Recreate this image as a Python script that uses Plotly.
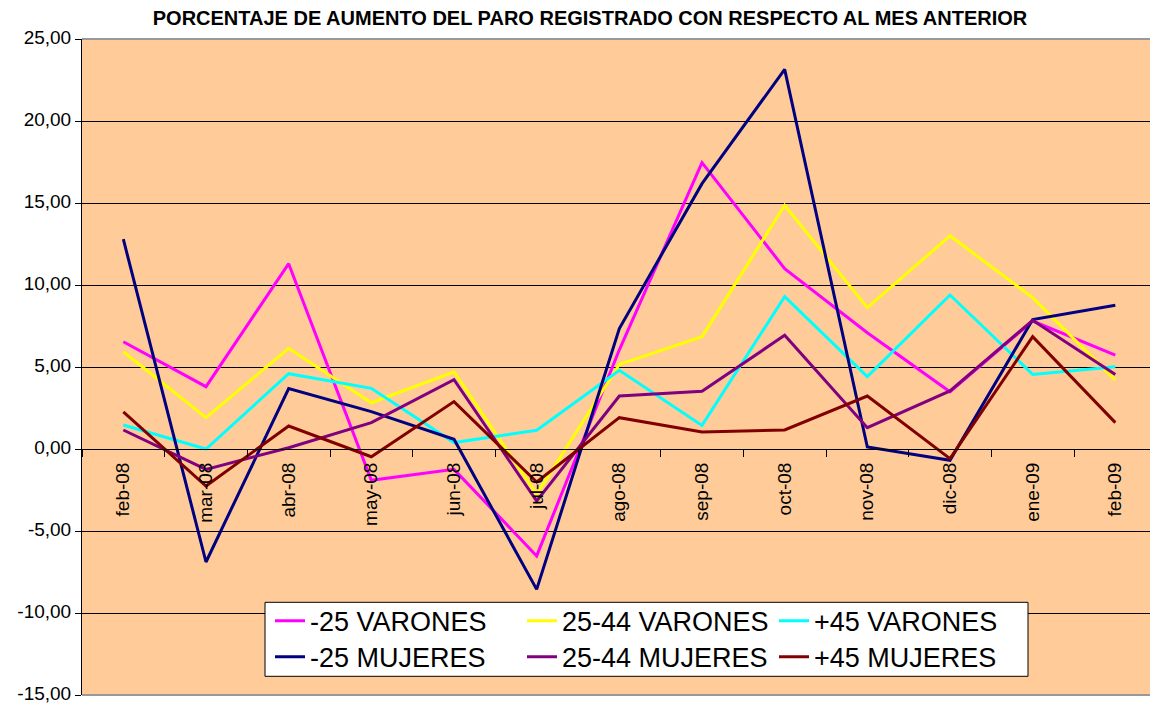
import plotly.graph_objects as go

months = ["feb-08", "mar-08", "abr-08", "may-08", "jun-08", "jul-08", "ago-08",
          "sep-08", "oct-08", "nov-08", "dic-08", "ene-09", "feb-09"]

v_menos25 = [6.54, 3.80, 11.30, -1.91, -1.24, -6.52, 6.05, 17.46, 11.00, 7.09, 3.49, 7.80, 5.73]
v_25_44 = [5.93, 1.91, 6.14, 2.82, 4.71, -2.76, 5.16, 6.85, 14.86, 8.62, 13.00, 9.23, 4.19]
v_mas45 = [1.46, 0.00, 4.59, 3.70, 0.39, 1.14, 4.80, 1.44, 9.29, 4.41, 9.39, 4.55, 5.02]
m_menos25 = [12.79, -6.89, 3.68, 2.28, 0.59, -8.56, 7.34, 16.18, 23.15, 0.12, -0.69, 7.89, 8.76]
m_25_44 = [1.16, -1.24, 0.08, 1.61, 4.23, -3.17, 3.23, 3.52, 6.93, 1.30, 3.54, 7.85, 4.55]
m_mas45 = [2.26, -2.26, 1.40, -0.47, 2.89, -2.01, 1.91, 1.04, 1.16, 3.23, -0.59, 6.85, 1.61]

series = [
    ("-25 VARONES", v_menos25, "#FF00FF", "legend"),
    ("25-44 VARONES", v_25_44, "#FFFF00", "legend"),
    ("+45 VARONES", v_mas45, "#00FFFF", "legend"),
    ("-25 MUJERES", m_menos25, "#000080", "legend2"),
    ("25-44 MUJERES", m_25_44, "#800080", "legend2"),
    ("+45 MUJERES", m_mas45, "#800000", "legend2"),
]

ytick_vals = [-15, -10, -5, 0, 5, 10, 15, 20, 25]
ytick_text = ["-15,00", "-10,00", "-5,00", "0,00", "5,00", "10,00", "15,00", "20,00", "25,00"]

FONT = "Arial, 'Liberation Sans', sans-serif"

fig = go.Figure()
for name, vals, color, lg in series:
    fig.add_trace(go.Scatter(
        x=months, y=vals, mode="lines", name=name,
        line=dict(color=color, width=3), legend=lg,
    ))

W, H = 1150, 704
L, R, T, B = 82, 0, 38.7, 9.3
pw = W - L - R
ph = H - T - B

def px_x(p):
    return (p - L) / pw

def px_y(p):
    return (H - B - p) / ph

unit = (1116 - 124) / 12.0
xmax = -0.5 + pw / unit

fig.update_layout(
    width=W, height=H,
    margin=dict(l=L, r=R, t=T, b=B, pad=0, autoexpand=False),
    paper_bgcolor="white",
    plot_bgcolor="#FFCC99",
    font=dict(family=FONT, size=19, color="black"),
    title=dict(
        text="<b>PORCENTAJE DE AUMENTO DEL PARO REGISTRADO CON RESPECTO AL MES ANTERIOR</b>",
        x=590 / W, xanchor="center", xref="container",
        y=1 - 18 / H, yanchor="middle", yref="container",
        font=dict(family=FONT, size=20, color="black"),
    ),
    xaxis=dict(
        type="category",
        categoryorder="array", categoryarray=months,
        range=[-0.5, xmax],
        anchor="free", position=15 / 40,
        showline=True, linecolor="black", linewidth=1,
        showgrid=False, zeroline=False,
        ticks="outside", ticklen=7, tickcolor="black", tickwidth=1,
        tickson="boundaries",
        tickangle=-90,
        ticklabelstandoff=5,
        tickfont=dict(family=FONT, size=19, color="black"),
    ),
    yaxis=dict(
        range=[-15, 25],
        tickmode="array", tickvals=ytick_vals, ticktext=ytick_text,
        showgrid=True, gridcolor="black", gridwidth=1,
        zeroline=False,
        showline=True, linecolor="black", linewidth=1,
        ticks="outside", ticklen=6, tickcolor="black",
        ticklabeloverflow="allow",
        ticklabelshift=-2,
        tickfont=dict(family=FONT, size=19, color="black"),
    ),
    legend=dict(
        orientation="h",
        x=px_x(270), xanchor="left",
        y=px_y(621), yanchor="middle",
        bgcolor="rgba(0,0,0,0)", borderwidth=0,
        entrywidth=207, entrywidthmode="pixels",
        font=dict(family=FONT, size=27, color="black"),
        itemwidth=30,
    ),
    legend2=dict(
        orientation="h",
        x=px_x(270), xanchor="left",
        y=px_y(657), yanchor="middle",
        bgcolor="rgba(0,0,0,0)", borderwidth=0,
        entrywidth=207, entrywidthmode="pixels",
        font=dict(family=FONT, size=27, color="black"),
        itemwidth=30,
    ),
    shapes=[
        dict(type="rect", xref="paper", yref="paper",
             x0=px_x(265), x1=px_x(1028), y0=px_y(676), y1=px_y(602),
             fillcolor="white", line=dict(color="black", width=1), layer="above"),
        dict(type="line", xref="paper", yref="paper", x0=0, x1=1, y0=1, y1=1,
             line=dict(color="#999999", width=2), layer="above"),
        dict(type="line", xref="paper", yref="paper", x0=0, x1=1, y0=0, y1=0,
             line=dict(color="#999999", width=2), layer="above"),
    ],
    showlegend=True,
)

fig.write_html(
    "out.html",
    config={"displayModeBar": False},
    post_script="document.body.style.margin='0';document.body.style.overflow='hidden';",
)
